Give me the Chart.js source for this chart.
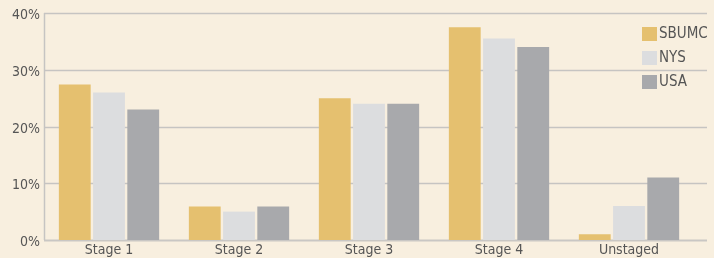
<!DOCTYPE html>
<html>
<head>
<meta charset="utf-8">
<script src="https://cdn.jsdelivr.net/npm/chart.js@4/dist/chart.umd.min.js"></script>
<style>
  html, body { margin: 0; padding: 0; background: #f8efdf; }
  #wrap { width: 714px; height: 258px; position: relative; }
</style>
</head>
<body>
<div id="wrap"><canvas id="stageChart" width="714" height="258"></canvas></div>
<script>
const stages = ['Stage 1', 'Stage 2', 'Stage 3', 'Stage 4', 'Unstaged'];
const sbumc = [27.4, 5.9, 25, 37.5, 1];
const nys = [26, 5, 24, 35.5, 6];
const usa = [23, 5.9, 24, 34, 11];
const yTicks = [0, 10, 20, 30, 40];

const gold = '#e5c06f';
const light = '#dcdddf';
const grey = '#a8a9ac';
const fontFam = '"Liberation Sans Narrow", "DejaVu Sans Condensed", "Liberation Sans", sans-serif';

// long grid lines that run past the last category, plus the little legend
const extras = {
  id: 'extras',
  beforeDatasetsDraw(chart) {
    const ctx = chart.ctx;
    const y = chart.scales.y;
    const a = chart.chartArea;
    ctx.save();
    yTicks.forEach(v => {
      const py = Math.round(y.getPixelForValue(v)) + 0.5;
      ctx.strokeStyle = v === 0 ? '#c9c7c4' : '#c6c4c2';
      ctx.lineWidth = v === 0 ? 2 : 1.5;
      ctx.beginPath();
      ctx.moveTo(a.left, py);
      ctx.lineTo(707, py);
      ctx.stroke();
    });
    ctx.strokeStyle = '#c6c4c2';
    ctx.lineWidth = 1.5;
    ctx.beginPath();
    ctx.moveTo(a.left + 0.5, y.getPixelForValue(40));
    ctx.lineTo(a.left + 0.5, y.getPixelForValue(0));
    ctx.stroke();
    ctx.restore();
  },
  afterDraw(chart) {
    const ctx = chart.ctx;
    ctx.save();
    ctx.font = '15px ' + fontFam;
    ctx.textBaseline = 'middle';
    chart.data.datasets.forEach((ds, i) => {
      const top = 27 + i * 24;
      ctx.fillStyle = ds.backgroundColor;
      ctx.fillRect(642, top, 15, 14);
      ctx.fillStyle = '#555555';
      ctx.fillText(ds.label, 659, top + 7.5);
    });
    ctx.restore();
  }
};

const ctx = document.getElementById('stageChart').getContext('2d');
const chart = new Chart(ctx, {
  type: 'bar',
  data: {
    labels: stages,
    datasets: [
      { label: 'SBUMC', data: sbumc, backgroundColor: gold },
      { label: 'NYS', data: nys, backgroundColor: light },
      { label: 'USA', data: usa, backgroundColor: grey }
    ]
  },
  options: {
    responsive: false,
    animation: false,
    layout: { padding: { top: 13, right: 20, left: 0, bottom: 0 } },
    datasets: { bar: { categoryPercentage: 0.79, barPercentage: 0.93 } },
    plugins: { legend: { display: false }, tooltip: { enabled: false } },
    scales: {
      x: {
        grid: { display: false, drawTicks: false },
        border: { display: false },
        ticks: { color: '#555555', font: { family: fontFam, size: 14 }, padding: 2 },
        afterFit(s) { s.height = 18; }
      },
      y: {
        min: 0,
        max: 40,
        grid: { display: false, drawTicks: false },
        border: { display: false },
        afterBuildTicks(s) { s.ticks = yTicks.map(v => ({ value: v })); },
        ticks: {
          color: '#555555',
          font: { family: fontFam, size: 14 },
          padding: 4,
          labelOffset: 2.5,
          callback: v => v + '%'
        },
        afterFit(s) { s.width = 44; }
      }
    }
  },
  plugins: [extras]
});
</script>
</body>
</html>
